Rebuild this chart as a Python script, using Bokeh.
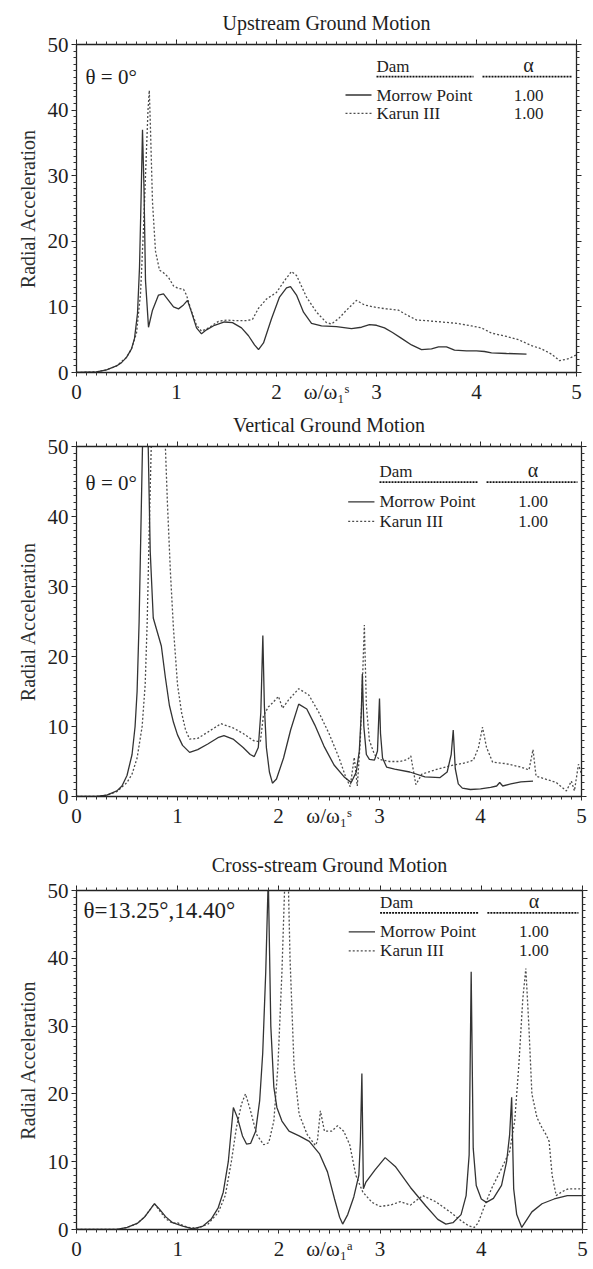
from bokeh.plotting import figure
from bokeh.models import Range1d, LinearAxis, SingleIntervalTicker, FixedTicker, Label, CustomJSTickFormatter
from bokeh.layouts import column
from bokeh.embed import file_html
from bokeh.resources import INLINE

SERIF = "Liberation Serif"

# ---------------- data ----------------
titles = ["Upstream Ground Motion", "Vertical Ground Motion", "Cross-stream Ground Motion"]
theta_labels = ["θ = 0°", "θ = 0°", "θ=13.25°,14.40°"]
x_axis_labels = ["ω/ω₁ˢ", "ω/ω₁ˢ", "ω/ω₁ᵃ"]
dam_names = ["Morrow Point", "Karun III"]
alpha_values = ["1.00", "1.00"]
x_ticks = [0, 1, 2, 3, 4, 5]
x_label_pos = 2.5
y_ticks = [0, 10, 20, 30, 40, 50]

# Upstream
up_mp_x = [0, 0.2, 0.3, 0.4, 0.45, 0.5, 0.55, 0.58, 0.61, 0.63, 0.645, 0.66, 0.675, 0.69, 0.72, 0.76, 0.82, 0.87,
           0.92, 0.97, 1.02, 1.07, 1.11, 1.15, 1.2, 1.25, 1.3, 1.38, 1.48, 1.56, 1.65, 1.72, 1.78, 1.82, 1.87, 1.95,
           2.03, 2.1, 2.14, 2.2, 2.27, 2.35, 2.45, 2.6, 2.75, 2.85, 2.93, 3.0, 3.08, 3.16, 3.25, 3.35, 3.45, 3.55,
           3.62, 3.7, 3.78, 3.9, 4.0, 4.08, 4.15, 4.3, 4.5]
up_mp_y = [0, 0.1, 0.4, 1.0, 1.5, 2.3, 3.6, 5.2, 9, 16, 26, 37, 28, 14, 6.9, 9.5, 11.8, 12.0,
           11, 10, 9.7, 10.3, 11.0, 9.2, 6.8, 5.9, 6.5, 7.2, 7.7, 7.6, 6.8, 5.6, 4.2, 3.5, 4.5, 8.2,
           11.5, 12.9, 13.1, 11.8, 9.2, 7.5, 7.1, 7.0, 6.7, 6.9, 7.3, 7.2, 6.8, 6.1, 5.2, 4.2, 3.5, 3.6,
           3.9, 3.9, 3.4, 3.3, 3.3, 3.2, 3.0, 2.9, 2.8]
up_ka_x = [0, 0.2, 0.3, 0.4, 0.5, 0.55, 0.6, 0.64, 0.67, 0.7, 0.715, 0.728, 0.74, 0.76, 0.79, 0.83, 0.87, 0.92,
           0.97, 1.02, 1.07, 1.1, 1.14, 1.2, 1.25, 1.32, 1.42, 1.5, 1.6, 1.7, 1.76, 1.82, 1.9, 2.0, 2.08, 2.15,
           2.2, 2.3, 2.4, 2.5, 2.55, 2.62, 2.7, 2.8, 2.88, 3.0, 3.1, 3.22, 3.3, 3.4, 3.5, 3.65, 3.8, 3.95, 4.05,
           4.15, 4.3, 4.42, 4.55, 4.65, 4.75, 4.83, 4.92, 5.0]
up_ka_y = [0, 0.1, 0.4, 1.0, 2.3, 3.6, 6, 12, 22, 34, 40, 43, 37, 26, 18.5, 15.6, 15.2, 14.5,
           13.2, 12.8, 12.7, 11.8, 9.8, 7.2, 6.3, 6.8, 7.8, 8.0, 7.9, 7.9, 8.1, 9.8, 11.2, 12.2, 14.0, 15.4,
           14.8, 11.5, 9.2, 7.6, 7.4, 8.2, 9.5, 11.0, 10.3, 9.9, 9.7, 9.5, 8.8, 8.0, 7.9, 7.7, 7.5, 7.1, 6.8,
           6.0, 5.5, 5.0, 4.1, 3.6, 2.8, 1.8, 2.1, 2.7]

# Vertical
ve_mp_x = [0, 0.2, 0.3, 0.4, 0.45, 0.5, 0.55, 0.58, 0.6, 0.62, 0.64, 0.66, 0.685, 0.71, 0.73, 0.76, 0.8, 0.84,
           0.88, 0.92, 0.96, 1.0, 1.05, 1.12, 1.2, 1.3, 1.4, 1.46, 1.55, 1.65, 1.72, 1.76, 1.8, 1.825, 1.845,
           1.86, 1.88, 1.91, 1.94, 1.98, 2.05, 2.12, 2.2, 2.28, 2.36, 2.45, 2.55, 2.65, 2.72, 2.77, 2.8, 2.82,
           2.83, 2.845, 2.87, 2.9, 2.95, 2.98, 3.0, 3.01, 3.03, 3.07, 3.15, 3.3, 3.45, 3.6, 3.67, 3.71, 3.73,
           3.75, 3.78, 3.82, 3.9, 4.0, 4.1, 4.16, 4.19, 4.22, 4.3, 4.4, 4.52]
ve_mp_y = [0, 0, 0.2, 0.8, 1.5, 3, 6, 10, 15, 25, 40, 55, 60, 50, 35, 25.5, 23.5, 21.5,
           17, 13, 10.6, 8.8, 7.3, 6.3, 6.7, 7.5, 8.4, 8.7, 8.2, 7, 6, 5.7, 7, 12, 23,
           13, 7, 3.5, 1.9, 2.5, 5.5, 9.5, 13.2, 12.5, 10.2, 7.2, 4.5, 2.8, 2.0, 3.5, 6.5, 12,
           17.5, 10, 6, 5.3, 5.2, 6.5, 14, 9, 5.5, 4.2, 3.9, 3.5, 2.8, 2.7, 3.5, 6, 9.5,
           4, 1.8, 1.2, 1.0, 1.1, 1.3, 1.5, 2.0, 1.5, 1.8, 2.1, 2.2]
ve_ka_x = [0, 0.2, 0.3, 0.4, 0.5, 0.55, 0.6, 0.65, 0.68, 0.7, 0.72, 0.74, 0.76, 0.78, 0.82, 0.86, 0.88, 0.9,
           0.93, 0.96, 1.0, 1.04, 1.08, 1.12, 1.2, 1.3, 1.43, 1.55, 1.65, 1.75, 1.82, 1.85, 1.9, 1.95, 2.0,
           2.04, 2.1, 2.2, 2.3, 2.4, 2.5, 2.6, 2.66, 2.71, 2.75, 2.78, 2.81, 2.835, 2.85, 2.87, 2.9, 2.95,
           3.0, 3.1, 3.2, 3.28, 3.31, 3.36, 3.42, 3.55, 3.7, 3.85, 3.93, 3.98, 4.02, 4.06, 4.12, 4.25, 4.4,
           4.48, 4.52, 4.55, 4.62, 4.75, 4.85, 4.9, 4.93, 4.97, 5.0]
ve_ka_y = [0, 0, 0.2, 0.7, 2, 3.2, 5.5, 10, 16, 25, 38, 50, 58, 62, 62, 55, 50, 42,
           32, 24, 16, 12, 9.5, 8.2, 8.3, 9.2, 10.4, 9.8, 9, 8, 7.8, 11.5, 12.8, 13.5, 14.3,
           12.6, 13.8, 15.4, 14.5, 12, 9, 5.5, 3, 1.4, 5.6, 1.5, 8, 18, 24.5, 13, 8, 6,
           5.3, 5.0, 5.0, 5.3, 5.8, 1.7, 3.2, 3.8, 4.4, 4.8, 5.2, 7, 9.9, 7, 4.9, 4.7, 4.2,
           3.8, 6.7, 2.9, 2.6, 2.0, 0.8, 2.2, 0.8, 4.6, 3.2]

# Cross-stream
cr_mp_x = [0, 0.4, 0.5, 0.6, 0.67, 0.72, 0.77, 0.82, 0.88, 0.95, 1.05, 1.15, 1.25, 1.33, 1.4, 1.45, 1.5, 1.55,
           1.59, 1.64, 1.68, 1.72, 1.77, 1.81, 1.84, 1.87, 1.895, 1.92, 1.95, 1.98, 2.03, 2.1, 2.2, 2.3, 2.4,
           2.48, 2.55, 2.6, 2.63, 2.68, 2.74, 2.79, 2.805, 2.82, 2.835, 2.86, 2.95, 3.05, 3.15, 3.3, 3.45,
           3.57, 3.65, 3.72, 3.8, 3.85, 3.88, 3.9, 3.92, 3.95, 4.0, 4.05, 4.12, 4.2, 4.25, 4.28, 4.3, 4.32,
           4.35, 4.4, 4.5, 4.6, 4.72, 4.85, 5.0]
cr_mp_y = [0, 0, 0.3, 0.9, 1.8, 2.8, 3.8, 3.0, 1.9, 1.0, 0.5, 0.1, 0.5, 1.5, 3.2, 5.5, 10, 18,
           16.5, 13.8, 12.6, 12.7, 14.5, 19, 26, 38, 52, 30, 21, 18, 16, 14.5, 13.8, 13, 11.2,
           8.5, 4.5, 1.8, 0.8, 2.2, 4.8, 8, 13, 23, 6, 7, 8.8, 10.6, 9.3, 6.2, 3.5,
           1.5, 0.8, 1.0, 2.2, 5, 11, 38, 12, 6.5, 4.5, 4.0, 4.6, 6.5, 10, 14, 19.5, 6,
           2.2, 0.3, 2.6, 3.8, 4.5, 5.0, 5.0]
cr_ka_x = [0, 0.4, 0.5, 0.6, 0.67, 0.72, 0.77, 0.82, 0.88, 0.95, 1.0, 1.05, 1.1, 1.2, 1.3, 1.4, 1.47, 1.53,
           1.58, 1.63, 1.67, 1.72, 1.78, 1.85, 1.9, 1.95, 1.99, 2.03, 2.06, 2.08, 2.11, 2.15, 2.2, 2.28, 2.36,
           2.38, 2.41, 2.45, 2.52, 2.58, 2.64, 2.7, 2.76, 2.83, 2.92, 3.0, 3.1, 3.2, 3.3, 3.42, 3.55, 3.7,
           3.8, 3.88, 3.93, 3.97, 4.02, 4.1, 4.2, 4.28, 4.33, 4.37, 4.41, 4.44, 4.47, 4.5, 4.55, 4.6, 4.64,
           4.67, 4.7, 4.74, 4.8, 4.86, 5.0]
cr_ka_y = [0, 0, 0.3, 0.9, 1.8, 2.8, 3.8, 2.8, 1.6, 0.9, 1.0, 0.6, 0.3, 0.2, 0.8, 2.5, 5, 10,
           15, 18.5, 20, 17.5, 14, 12.5, 12.8, 16, 24, 38, 52, 60, 40, 24, 17, 14, 12.4,
           13, 17.5, 14.5, 14.5, 15.3, 14.5, 12.5, 8, 5.5, 4, 3.4, 3.6, 4.1, 3.6, 5.0, 4.1, 2.5,
           1.3, 0.5, 0.3, 1, 3, 6, 9, 11.5, 16, 24, 34, 38.5, 30, 20, 16.5, 15, 14,
           13, 8, 5, 5.6, 6, 6]

series = [((up_mp_x, up_mp_y), (up_ka_x, up_ka_y)),
          ((ve_mp_x, ve_mp_y), (ve_ka_x, ve_ka_y)),
          ((cr_mp_x, cr_mp_y), (cr_ka_x, cr_ka_y))]

# ---------------- layout settings ----------------
# (frame width, top border, frame height, bottom border, title standoff)
LEFT_BORDER = 76
geom = [(500, 44, 328, 32, 12),
        (505, 38, 350, 32, 11),
        (506, 60, 339, 30, 19)]
legend_dy = [0.0, -0.2, 1.6]
theta_pos = [(0.09, 45.1, "21px"), (0.09, 44.8, "21px"), (0.07, 47.0, "23px")]

SOLID_COLOR = "#333333"
DOT_COLOR = "#4d4d4d"
TEXT_COLOR = "#1e1e1e"
BLANK = CustomJSTickFormatter(code="return ''")


def style_axis(ax, labels):
    ax.axis_line_color = "#222222"
    ax.axis_line_width = 1.3
    ax.major_tick_line_color = "#222222"
    ax.minor_tick_line_color = "#333333"
    ax.major_tick_in = 0
    ax.major_tick_out = 5
    ax.minor_tick_in = 0
    ax.minor_tick_out = 3
    if labels:
        ax.major_label_text_font = SERIF
        ax.major_label_text_font_size = "21px"
        ax.major_label_text_color = TEXT_COLOR
        ax.major_label_standoff = 3
    else:
        ax.formatter = BLANK
        ax.major_label_text_font_size = "1px"
        ax.major_label_standoff = 0


def make_panel(i):
    fw, tb, fh, bb, ts = geom[i]
    p = figure(frame_width=fw, frame_height=fh,
               x_range=Range1d(0, 5), y_range=Range1d(0, 50),
               output_backend="svg", toolbar_location=None,
               min_border_left=LEFT_BORDER, min_border_right=10,
               min_border_top=tb, min_border_bottom=bb)
    p.xgrid.visible = False
    p.ygrid.visible = False
    p.outline_line_color = None
    p.background_fill_color = "white"
    p.border_fill_color = "white"

    p.title.text = titles[i]
    p.title.align = "center"
    p.title.text_font = SERIF
    p.title.text_font_size = "20px"
    p.title.text_font_style = "normal"
    p.title.text_color = TEXT_COLOR
    p.title.standoff = ts

    # bottom axis: integer ticks plus the axis name written among the tick labels
    xt = FixedTicker(ticks=x_ticks + [x_label_pos],
                     minor_ticks=[k / 10 for k in range(0, 51)])
    p.xaxis.ticker = xt
    p.xaxis.major_label_overrides = {x_label_pos: x_axis_labels[i]}
    yt = FixedTicker(ticks=y_ticks, minor_ticks=list(range(0, 51)))
    p.yaxis.ticker = yt
    style_axis(p.xaxis[0], True)
    style_axis(p.yaxis[0], True)
    p.xaxis.major_tick_out = 4
    p.yaxis.axis_label = "Radial Acceleration"
    p.yaxis.axis_label_text_font = SERIF
    p.yaxis.axis_label_text_font_size = "20px"
    p.yaxis.axis_label_text_font_style = "normal"
    p.yaxis.axis_label_text_color = "#2d3030"
    p.yaxis.axis_label_standoff = 6

    top = LinearAxis(ticker=SingleIntervalTicker(interval=1, num_minor_ticks=10))
    style_axis(top, False)
    p.add_layout(top, "above")
    right = LinearAxis(ticker=SingleIntervalTicker(interval=10, num_minor_ticks=10))
    style_axis(right, False)
    p.add_layout(right, "right")

    (mx, my), (kx, ky) = series[i]
    p.line(kx, ky, line_color=DOT_COLOR, line_width=1.3, line_dash="2 2")
    p.line(mx, my, line_color=SOLID_COLOR, line_width=1.3)

    # theta annotation
    tx, ty, tfs = theta_pos[i]
    p.add_layout(Label(x=tx, y=ty, text=theta_labels[i], text_font=SERIF, text_font_size=tfs,
                       text_baseline="middle", text_color=TEXT_COLOR))

    # legend table
    dy = legend_dy[i]
    fs = "17px"
    p.add_layout(Label(x=3.0, y=46.7 + dy, text="Dam", text_font=SERIF, text_font_size=fs,
                       text_baseline="middle", text_color=TEXT_COLOR))
    p.add_layout(Label(x=4.52, y=46.9 + dy, text="α", text_font=SERIF, text_font_size="20px",
                       text_baseline="middle", text_align="center", text_color=TEXT_COLOR))
    p.segment(x0=[3.0, 4.06], y0=[45.1 + dy] * 2, x1=[3.97, 4.96], y1=[45.1 + dy] * 2,
              line_color="#111111", line_width=1.8, line_dash="2 1")
    row_y = [42.3 + dy, 39.5 + dy]
    p.line([2.69, 2.95], [row_y[0]] * 2, line_color=SOLID_COLOR, line_width=1.3)
    p.line([2.69, 2.95], [row_y[1]] * 2, line_color=DOT_COLOR, line_width=1.3, line_dash="2 2")
    for name, a, yy in zip(dam_names, alpha_values, row_y):
        p.add_layout(Label(x=3.0, y=yy, text=name, text_font=SERIF, text_font_size=fs,
                           text_baseline="middle", text_color=TEXT_COLOR))
        p.add_layout(Label(x=4.52, y=yy, text=a, text_font=SERIF, text_font_size=fs,
                           text_baseline="middle", text_align="center", text_color=TEXT_COLOR))
    return p


panels = [make_panel(i) for i in range(3)]
layout = column(*panels, spacing=0)
open("out.html", "w").write(file_html(layout, INLINE))
